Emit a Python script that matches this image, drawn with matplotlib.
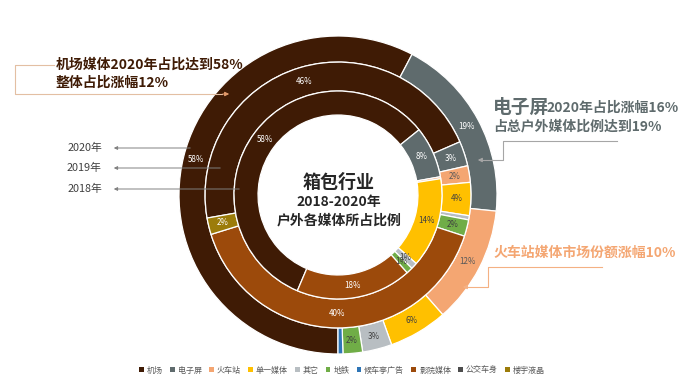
import numpy as np
import matplotlib.pyplot as plt
from matplotlib.patches import Patch

plt.rcParams['font.family'] = ['Noto Sans CJK SC', 'DejaVu Sans']

# 数据
categories = ['机场', '电子屏', '火车站', '单一媒体', '其它', '地铁',
              '候车亭广告', '影院媒体', '公交车身', '楼宇液晶']
colors = ['#3F1B05', '#5F6B6D', '#F4A672', '#FFC000', '#B8BEC2', '#70AD47',
          '#2E75B6', '#9C4A0B', '#4D4D4D', '#9C7C0A']
dark_text = ['#FFFFFF', '#FFFFFF', '#595959', '#404040', '#404040', '#404040',
             '#FFFFFF', '#FFFFFF', '#FFFFFF', '#FFFFFF']
y2020 = [58, 19, 12, 6, 3, 2, 0.5, 0, 0, 0]
y2019 = [46, 3, 2, 4, 0.5, 2, 0, 40, 0, 2]
y2018 = [58, 8, 0.3, 14, 1, 1, 0, 18, 0, 0]
years = ['2020年', '2019年', '2018年']

W, H = 699, 386
CX, CY, R = 338, 195, 159.0


def px(x, y):
    # 像素坐标(左上为原点) -> 数据坐标
    return ((x - CX) / R, (CY - y) / R)


fig = plt.figure(figsize=(W / 100, H / 100), dpi=100)
ax = fig.add_axes([0, 0, 1, 1])

rings = [(y2020, 1.0, 0.164, -90),
         (y2019, 0.836, 0.182, -170),
         (y2018, 0.654, 0.151, -113)]

for vals, rad, wid, start in rings:
    idx = [i for i, v in enumerate(vals) if v > 0]
    v = [vals[i] for i in idx]
    wedges, _ = ax.pie(v, radius=rad, colors=[colors[i] for i in idx],
                       startangle=start, counterclock=False,
                       wedgeprops=dict(width=wid, edgecolor='white', linewidth=0.9))
    for w, i in zip(wedges, idx):
        if vals[i] < 1:
            continue
        ang = np.deg2rad((w.theta1 + w.theta2) / 2)
        rm = rad - wid / 2
        ax.text(rm * np.cos(ang), rm * np.sin(ang), f'{vals[i]:g}%',
                ha='center', va='center', fontsize=5.8, color=dark_text[i])

# 中心文字
ax.text(*px(339, 182), '箱包行业', ha='center', va='center',
        fontsize=13, fontweight='bold', color='#262626')
ax.text(*px(339, 202), '2018-2020年', ha='center', va='center',
        fontsize=10, fontweight='bold', color='#262626')
ax.text(*px(339, 221), '户外各媒体所占比例', ha='center', va='center',
        fontsize=10, fontweight='bold', color='#262626')

# 左侧注释
brown = '#3F1B05'
ax.text(*px(56, 65), '机场媒体2020年占比达到58%', ha='left', va='center',
        fontsize=10, fontweight='bold', color=brown)
ax.text(*px(56, 83), '整体占比涨幅12%', ha='left', va='center',
        fontsize=10, fontweight='bold', color=brown)
pts = [px(54, 65), px(15, 65), px(15, 94), px(222, 94)]
ax.plot([p[0] for p in pts], [p[1] for p in pts], color='#E3BFA3', lw=0.8)
ax.annotate('', xy=px(232, 94), xytext=px(220, 94),
            arrowprops=dict(arrowstyle='-|>', color='#E39A6A', lw=0.8, mutation_scale=6))

# 年份标签
for yr, yy, xe in zip(years, [148, 168, 189], [193, 223, 242]):
    ax.text(*px(102, yy), yr, ha='right', va='center', fontsize=7.8, color='#404040')
    ax.annotate('', xy=px(111, yy), xytext=px(xe, yy),
                arrowprops=dict(arrowstyle='-|>', color='#808080', lw=0.7, mutation_scale=5))

# 右侧注释: 电子屏
gray = '#5F6B6D'
ax.text(*px(493, 107), '电子屏', ha='left', va='center',
        fontsize=13.5, fontweight='bold', color=gray)
ax.text(*px(546, 108), '2020年占比涨幅16%', ha='left', va='center',
        fontsize=10, fontweight='bold', color=gray)
ax.text(*px(493, 127), '占总户外媒体比例达到19%', ha='left', va='center',
        fontsize=10, fontweight='bold', color=gray)
pts = [px(617, 141), px(503, 141), px(503, 160), px(482, 160)]
ax.plot([p[0] for p in pts], [p[1] for p in pts], color='#A6A6A6', lw=0.8)
ax.annotate('', xy=px(475, 160), xytext=px(484, 160),
            arrowprops=dict(arrowstyle='-|>', color='#A6A6A6', lw=0.8, mutation_scale=6))

# 右侧注释: 火车站
orange = '#F4A672'
ax.text(*px(493, 253), '火车站媒体市场份额涨幅10%', ha='left', va='center',
        fontsize=10, fontweight='bold', color=orange)
pts = [px(602, 267), px(488, 267), px(488, 287), px(467, 287)]
ax.plot([p[0] for p in pts], [p[1] for p in pts], color='#F4B183', lw=0.8)
ax.annotate('', xy=px(460, 287), xytext=px(469, 287),
            arrowprops=dict(arrowstyle='-|>', color='#F4B183', lw=0.8, mutation_scale=6))

# 图例
handles = [Patch(facecolor=c, edgecolor='none') for c in colors]
fig.legend(handles, categories, loc='center', bbox_to_anchor=(342 / W, 1 - 370 / H),
           ncol=10, frameon=False, fontsize=5.8, handlelength=0.6, handleheight=0.6,
           columnspacing=0.9, handletextpad=0.35, labelcolor='#595959')

ax.set_xlim(-CX / R, (W - CX) / R)
ax.set_ylim(-(H - CY) / R, CY / R)
ax.set_aspect('equal')
ax.axis('off')

fig.savefig('out.png', dpi=100)
